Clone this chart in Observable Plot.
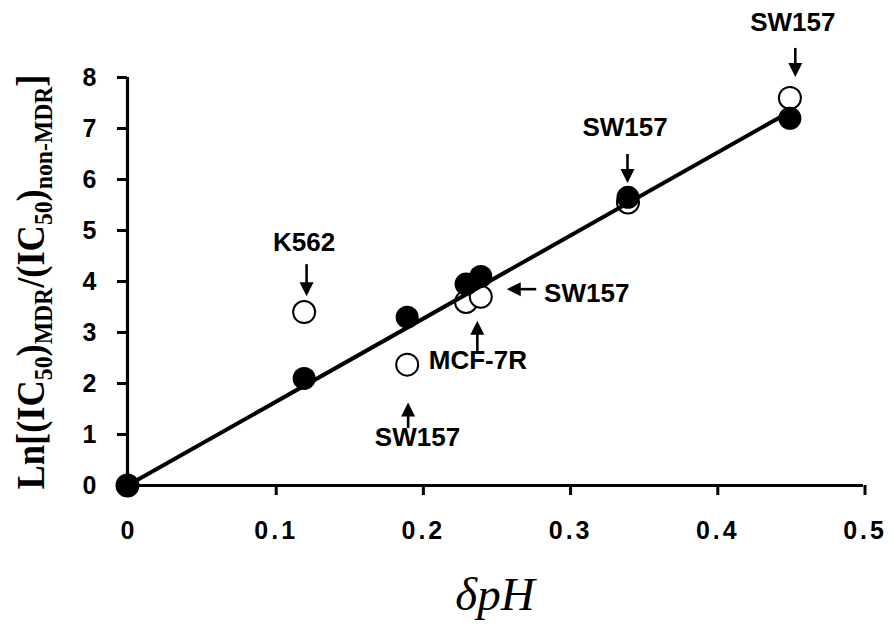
<!DOCTYPE html>
<html><head><meta charset="utf-8">
<script src="https://cdn.jsdelivr.net/npm/d3@7"></script>
<script src="https://cdn.jsdelivr.net/npm/@observablehq/plot@0.6"></script>
<style>
body{margin:0;background:#fff}
#chart{width:894px;height:626px}
#chart g[aria-label="x-axis tick label"] text{letter-spacing:3px}
</style>
</head><body><div id="chart"></div>
<script>
// data
const dpH = [0, 0.12, 0.19, 0.23, 0.24, 0.34, 0.45];
const filledLn = [0, 2.1, 3.3, 3.95, 4.1, 5.65, 7.2];
const openLn = [0, 3.4, 2.37, 3.6, 3.7, 5.55, 7.6];
const fitX = [0, 0.45];
const fitY = [0, 7.33];
const xTicks = [0, 0.1, 0.2, 0.3, 0.4, 0.5];
const yTicks = [0, 1, 2, 3, 4, 5, 6, 7, 8];
// annotations
const labelText = ["K562", "SW157", "MCF-7R", "SW157", "SW157", "SW157"];
const labelX = [0.12, 0.197, 0.238, 0.283, 0.338, 0.452];
const labelY = [4.76, 0.94, 2.45, 3.76, 7.02, 9.08];
const labelAnchor = ["middle", "middle", "middle", "start", "middle", "middle"];
const arrowX1 = [0.122, 0.191, 0.238, 0.278, 0.340, 0.454];
const arrowY1 = [4.33, 1.12, 2.62, 3.84, 6.49, 8.57];
const arrowX2 = [0.122, 0.191, 0.238, 0.258, 0.340, 0.454];
const arrowY2 = [3.70, 1.62, 3.22, 3.84, 5.92, 8.00];

const filled = dpH.map((x, i) => ({x, y: filledLn[i]}));
const open = dpH.map((x, i) => ({x, y: openLn[i]}));
const fit = fitX.map((x, i) => ({x, y: fitY[i]}));
const labels = labelText.map((t, i) => ({t, x: labelX[i], y: labelY[i], a: labelAnchor[i]}));
const arrows = arrowX1.map((x1, i) => ({x1, y1: arrowY1[i], x2: arrowX2[i], y2: arrowY2[i]}));

function arrowMark(index, scales) {
  const g = d3.create("svg:g");
  for (const a of arrows) {
    const x1 = scales.x(a.x1), y1 = scales.y(a.y1), x2 = scales.x(a.x2), y2 = scales.y(a.y2);
    const dx = x2 - x1, dy = y2 - y1, L = Math.hypot(dx, dy), ux = dx / L, uy = dy / L;
    const hl = 14, hw = 7;
    const bx = x2 - ux * hl, by = y2 - uy * hl;
    g.append("line").attr("x1", x1).attr("y1", y1).attr("x2", bx + ux).attr("y2", by + uy)
      .attr("stroke", "black").attr("stroke-width", 2.6);
    g.append("path").attr("d", `M${x2},${y2}L${bx - uy * hw},${by + ux * hw}L${bx + uy * hw},${by - ux * hw}Z`)
      .attr("fill", "black");
  }
  return g.node();
}

function yTitle(index, scales, values, dim) {
  const cy = (dim.marginTop + dim.height - dim.marginBottom) / 2 + 1;
  const t = d3.create("svg:text")
    .attr("transform", `translate(44,${cy}) rotate(-90)`)
    .attr("text-anchor", "middle")
    .attr("font-family", "Liberation Serif, Times New Roman, serif")
    .attr("font-weight", "bold")
    .attr("font-size", 40)
    .attr("textLength", 415)
    .attr("lengthAdjust", "spacingAndGlyphs")
    .attr("fill", "black");
  const parts = [["Ln[(IC", 0], ["50", 1], [")", 0], ["MDR", 1], ["/(IC", 0], ["50", 1], [")", 0], ["non-MDR", 1], ["]", 0]];
  let sub = false;
  for (const [s, isSub] of parts) {
    const ts = t.append("tspan").text(s);
    if (isSub && !sub) { ts.attr("dy", 8).attr("font-size", 26); sub = true; }
    else if (isSub) { ts.attr("font-size", 26); }
    else if (!isSub && sub) { ts.attr("dy", -8); sub = false; }
  }
  return t.node();
}

function xTitle(index, scales, values, dim) {
  const cx = (dim.marginLeft + dim.width - dim.marginRight) / 2;
  return d3.create("svg:text")
    .attr("x", cx).attr("y", dim.height - 16)
    .attr("text-anchor", "middle")
    .attr("font-family", "Liberation Serif, Times New Roman, serif")
    .attr("font-style", "italic")
    .attr("font-weight", "normal")
    .attr("font-size", 47)
    .attr("fill", "black")
    .text("\u03B4pH").node();
}

const chart = Plot.plot({
  width: 894,
  height: 626,
  marginLeft: 127,
  marginRight: 31,
  marginTop: 77,
  marginBottom: 141,
  style: {fontFamily: "Liberation Sans, Arial, sans-serif", fontSize: "25px", fontWeight: "bold", background: "white", overflow: "visible"},
  x: {domain: [0, 0.5]},
  y: {domain: [0, 8]},
  marks: [
    Plot.axisX({ticks: xTicks, tickSize: 10, tickPadding: 26, dx: 1.5, tickFormat: d => d === 0 ? "0" : String(d), fontSize: 25, fontWeight: "bold", strokeWidth: 3, label: null, fill: "black"}),
    Plot.axisY({ticks: yTicks, tickSize: 10, tickPadding: 21, fontSize: 25, fontWeight: "bold", strokeWidth: 3, label: null, fill: "black"}),
    Plot.ruleX([0], {stroke: "black", strokeWidth: 3.2}),
    Plot.ruleY([0], {stroke: "black", strokeWidth: 3.2}),
    Plot.dot(open, {x: "x", y: "y", r: 11, fill: "white", stroke: "black", strokeWidth: 2}),
    Plot.dot(filled, {x: "x", y: "y", r: 11.5, fill: "black", stroke: "none"}),
    Plot.line(fit, {x: "x", y: "y", stroke: "black", strokeWidth: 4}),
    arrowMark,
    Plot.text(labels.filter(d => d.a === "middle"), {x: "x", y: "y", text: "t", textAnchor: "middle", fontSize: 26, fontWeight: "bold", fill: "black"}),
    Plot.text(labels.filter(d => d.a === "start"), {x: "x", y: "y", text: "t", textAnchor: "start", fontSize: 26, fontWeight: "bold", fill: "black"}),
    yTitle,
    xTitle
  ]
});
document.getElementById("chart").append(chart);
</script>
</body></html>
